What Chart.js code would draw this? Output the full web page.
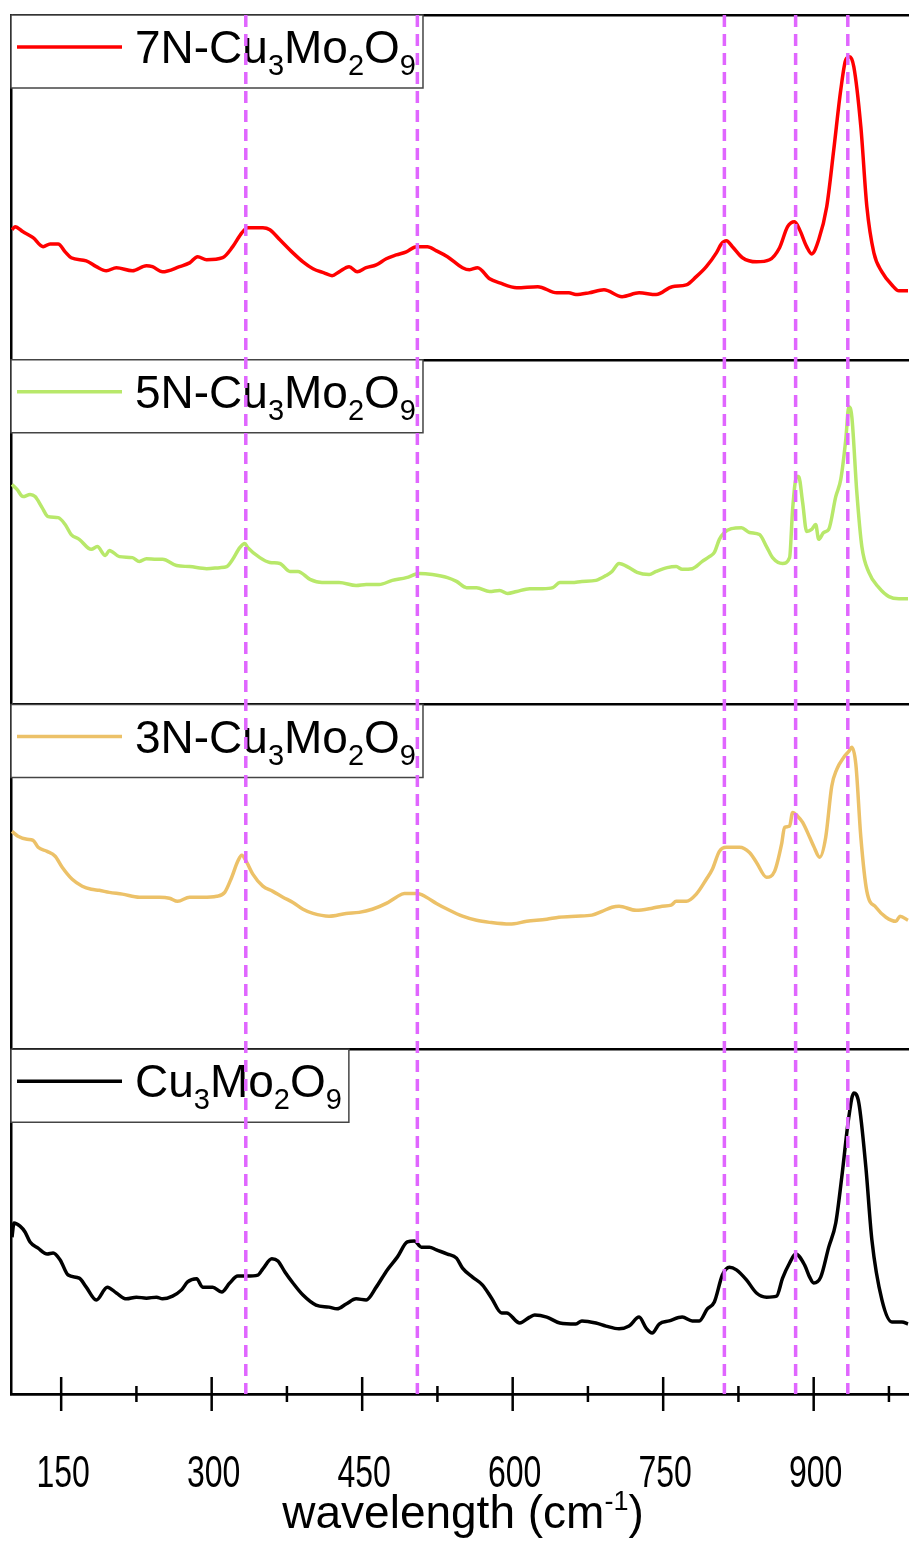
<!DOCTYPE html>
<html>
<head>
<meta charset="utf-8">
<script src="https://cdn.jsdelivr.net/npm/chart.js@4.4.1/dist/chart.umd.min.js"></script>
<style>
  html, body { margin: 0; padding: 0; background: #fff; }
  canvas { display: block; }
</style>
</head>
<body>
<canvas id="raman" width="909" height="1543"></canvas>
<script>
// Raman spectra, wavenumber (cm-1) vs intensity (a.u., 0-100 inside each panel)
const pristineWave = [101,103,109,114,119,127,136,142,149,157,168,175,185,196,205,215,225,235,245,251,261,270,276,285,291,301,310,318,326,335,346,351,360,366,373,381,391,404,417,425,434,444,454,464,475,485,495,502,509,517,524,535,544,550,560,570,579,589,594,607,617,622,634,647,663,669,683,693,706,716,726,733,739,746,756,769,779,786,794,801,809,816,823,833,843,853,863,869,876,882,891,896,900,907,915,922,928,935,940,945,952,958,968,978,988,994];
const pristineInt = [45.5,49.6,48.7,47.0,44.1,42.3,40.6,40.9,38.9,34.5,33.6,31.0,27.3,31.0,29.3,27.6,28.1,27.8,28.1,27.6,28.4,30.2,32.5,33.4,31.0,31.0,29.6,32.2,34.2,34.2,34.5,36.3,39.2,38.6,35.4,32.2,28.7,25.8,25.2,24.7,26.1,27.6,27.3,31.0,36.0,39.7,44.1,44.4,42.6,42.6,41.8,40.6,39.4,36.5,33.9,31.6,27.8,23.5,23.5,20.6,22.3,22.9,22.3,20.6,20.3,21.2,20.6,19.7,18.9,19.7,22.3,19.1,17.7,20.3,21.2,22.3,21.2,21.2,24.7,26.7,34.5,36.8,36.0,33.1,29.3,28.1,28.4,33.6,38.0,40.6,37.4,33.9,32.2,33.9,42.6,49.6,62.9,80.3,87.3,84.4,65.8,44.7,27.3,20.9,20.9,20.3];

const n3Wave = [101,107,116,122,127,136,144,151,161,171,180,188,198,211,228,248,258,266,278,291,305,313,320,326,330,335,341,351,361,371,381,391,401,417,434,447,460,474,484,492,505,514,524,535,550,564,577,597,614,634,646,663,679,689,699,706,723,739,749,758,763,773,783,793,799,806,813,826,836,843,853,861,868,871,876,879,884,889,896,900,906,912,918,923,930,935,938,942,947,953,962,972,982,986,994];
const n3Int = [63.2,61.8,60.9,60.6,58.6,57.4,56.0,52.8,49.3,47.3,46.4,46.1,45.5,45.0,44.1,44.1,43.8,42.9,44.1,44.1,44.4,45.5,49.9,54.5,56.3,54.2,50.8,47.3,45.8,44.1,42.6,40.6,39.4,38.6,39.4,39.7,40.6,42.3,44.1,45.2,45.2,44.1,42.3,40.6,38.6,37.4,36.8,36.3,37.1,37.7,38.3,38.6,38.9,40.0,41.2,41.5,40.3,40.9,41.5,41.8,42.9,42.9,45.0,49.3,52.2,57.4,58.6,58.6,57.1,54.2,49.9,51.6,59.5,64.4,64.7,68.7,67.6,65.8,61.5,58.9,55.7,61.5,76.3,81.2,84.7,86.4,87.6,82.7,61.5,45.8,41.2,38.3,37.1,38.6,37.4];

const n5Wave = [101,106,112,119,124,131,137,147,154,160,168,180,186,194,198,208,221,228,235,245,251,265,278,295,308,315,321,328,333,336,348,358,368,378,386,398,410,427,444,454,467,480,494,507,520,535,544,554,564,577,587,595,604,617,630,640,647,659,669,683,693,699,706,716,724,736,743,754,763,769,779,789,796,801,806,811,818,828,836,846,853,859,869,876,879,883,885,889,893,898,902,905,910,915,922,927,932,935,938,943,948,955,965,975,985,994];
const n5Int = [63.8,62.4,60.3,60.9,60.3,57.1,54.5,54.2,52.2,49.3,47.9,45.0,45.8,43.2,44.7,42.9,42.6,41.5,42.3,42.1,42.1,40.3,40.0,39.4,39.7,40.0,42.1,45.5,46.7,45.5,42.6,41.2,40.9,38.6,38.6,36.3,35.4,35.4,34.5,34.8,34.8,36.0,36.8,38.0,37.7,36.8,35.7,33.9,33.9,32.8,33.1,32.2,32.8,33.6,33.6,33.9,35.4,35.4,35.7,36.0,37.4,38.6,40.9,39.7,38.3,37.7,38.6,39.7,40.0,39.2,39.4,41.5,42.9,44.1,47.9,49.9,51.0,51.3,49.9,49.3,45.8,42.6,40.9,42.6,56.6,66.1,66.1,58.6,50.2,50.8,52.2,47.9,49.9,50.8,60.3,65.3,76.9,86.4,83.5,61.5,45.8,38.3,33.9,31.3,30.7,30.7];

const n7Wave = [101,104,112,122,132,139,147,154,160,175,185,195,205,221,235,241,251,268,278,286,295,311,321,330,336,351,358,368,381,391,401,412,420,427,437,445,454,464,474,484,494,504,515,524,535,550,557,565,577,587,604,625,644,656,663,676,691,709,726,743,759,773,783,793,803,808,813,819,829,843,856,866,874,881,886,893,898,905,913,920,927,932,936,940,947,953,960,968,978,985,994];
const n7Int = [37.7,38.6,37.1,35.4,32.8,33.6,33.6,31.3,29.6,28.7,27.0,25.8,26.7,25.8,27.3,27.0,25.5,27.0,28.1,29.9,29.0,29.6,32.8,36.8,38.3,38.3,37.7,34.8,31.0,28.4,26.4,25.2,24.4,25.5,27.0,25.5,26.7,27.5,29.3,30.4,31.3,32.8,32.8,31.6,29.9,26.7,26.1,26.7,23.5,22.3,20.9,21.2,19.4,19.4,18.9,19.4,20.3,18.3,19.4,18.9,21.2,21.7,24.1,27.0,31.0,33.6,34.5,32.8,29.6,28.4,29.0,32.5,38.6,40.0,37.7,32.8,30.7,34.8,44.4,60.9,78.3,87.0,87.9,85.0,67.6,44.4,31.0,25.5,21.7,20.0,20.0];

// bottom panel first
const sampleNames = ['Cu3Mo2O9', '3N-Cu3Mo2O9', '5N-Cu3Mo2O9', '7N-Cu3Mo2O9'];
const sampleColors = ['#000000', '#ecc168', '#b8e86a', '#ff0000'];
const majorTicks = [150, 300, 450, 600, 750, 900];
const minorTicks = [225, 375, 525, 675, 825, 975];
const peakLines = [334, 505, 811, 882, 934];
const waveMin = 100, waveMax = 995;
const panelSpan = 100;

const FONT = '"Liberation Sans", Arial, sans-serif';

const spectra = [
  [pristineWave, pristineInt],
  [n3Wave, n3Int],
  [n5Wave, n5Int],
  [n7Wave, n7Int]
];

const datasets = spectra.map(([wave, inten], i) => ({
  label: sampleNames[i],
  data: wave.map((w, k) => ({ x: w, y: inten[k] + i * panelSpan })),
  borderColor: sampleColors[i],
  borderWidth: 3.5,
  pointRadius: 0,
  cubicInterpolationMode: 'monotone',
  fill: false
}));

// writes a formula, digits after a letter go down as subscripts
function drawFormula(ctx, text, x, baseline, size, draw) {
  const subSize = Math.round(size * 0.62);
  let cx = x;
  for (let i = 0; i < text.length; i++) {
    const ch = text[i];
    const sub = /\d/.test(ch) && i > 0 && /[A-Za-z]/.test(text[i - 1]);
    ctx.font = (sub ? subSize : size) + 'px ' + FONT;
    if (draw) ctx.fillText(ch, cx, baseline + (sub ? 12 : 0));
    cx += ctx.measureText(ch).width;
  }
  return cx;
}

const decor = {
  id: 'decor',
  afterDraw(chart) {
    const { ctx, chartArea: area, scales: { x, y } } = chart;
    ctx.save();

    // one legend box per panel, top-left corner
    sampleNames.forEach((name, i) => {
      const top = y.getPixelForValue((i + 1) * panelSpan);
      const left = area.left;
      const end = drawFormula(ctx, name, left + 124, top + 48, 46, false);
      const w = end + 7 - left;
      ctx.fillStyle = '#fff';
      ctx.fillRect(left, top, w, 73);
      ctx.strokeStyle = '#444';
      ctx.lineWidth = 1.5;
      ctx.setLineDash([]);
      ctx.strokeRect(left, top, w, 73);
      ctx.strokeStyle = sampleColors[i];
      ctx.lineWidth = 3.5;
      ctx.beginPath();
      ctx.moveTo(left + 6, top + 32);
      ctx.lineTo(left + 111, top + 32);
      ctx.stroke();
      ctx.fillStyle = '#000';
      ctx.textBaseline = 'alphabetic';
      ctx.textAlign = 'left';
      drawFormula(ctx, name, left + 124, top + 48, 46, true);
    });

    // peak guide lines
    ctx.strokeStyle = '#e066ff';
    ctx.lineWidth = 3.5;
    ctx.setLineDash([12, 7]);
    peakLines.forEach(v => {
      const px = x.getPixelForValue(v);
      ctx.beginPath();
      ctx.moveTo(px, area.top);
      ctx.lineTo(px, area.bottom);
      ctx.stroke();
    });
    ctx.setLineDash([]);

    // tick marks crossing the bottom axis, labels on the major ones
    ctx.strokeStyle = '#000';
    ctx.fillStyle = '#000';
    ctx.lineWidth = 2.5;
    ctx.textAlign = 'center';
    ctx.textBaseline = 'alphabetic';
    x.ticks.forEach(t => {
      const px = x.getPixelForValue(t.value);
      const major = majorTicks.includes(t.value);
      const len = major ? 17 : 8;
      ctx.beginPath();
      ctx.moveTo(px, area.bottom - len);
      ctx.lineTo(px, area.bottom + len);
      ctx.stroke();
      if (major) {
        ctx.save();
        ctx.translate(px + 2, area.bottom + 93);
        ctx.scale(1, 1.4);
        ctx.font = '32px ' + FONT;
        ctx.fillText(String(t.value), 0, 0);
        ctx.restore();
      }
    });

    // axis title with superscript
    ctx.textAlign = 'left';
    ctx.font = '46px ' + FONT;
    const main = 'wavelength (cm';
    const mainW = ctx.measureText(main).width;
    ctx.font = '27px ' + FONT;
    const supW = ctx.measureText('-1').width;
    ctx.font = '46px ' + FONT;
    const closeW = ctx.measureText(')').width;
    const total = mainW + supW + closeW;
    let tx = 463 - total / 2;
    const base = 1528;
    ctx.fillText(main, tx, base);
    tx += mainW;
    ctx.font = '27px ' + FONT;
    ctx.fillText('-1', tx, base - 18);
    tx += supW;
    ctx.font = '46px ' + FONT;
    ctx.fillText(')', tx, base);

    ctx.restore();
  }
};

new Chart(document.getElementById('raman'), {
  type: 'line',
  data: { datasets },
  options: {
    responsive: false,
    animation: false,
    layout: { padding: { left: 11, top: 15, right: 0, bottom: 0 } },
    plugins: { legend: { display: false }, tooltip: { enabled: false } },
    scales: {
      x: {
        type: 'linear',
        min: waveMin,
        max: waveMax,
        afterBuildTicks: s => {
          s.ticks = majorTicks.concat(minorTicks).sort((a, b) => a - b).map(value => ({ value }));
        },
        afterFit: s => {
          s.height = 149;
          s.paddingLeft = 0;
          s.paddingRight = 0;
        },
        grid: { display: false, drawTicks: false },
        border: { display: true, color: '#000', width: 2.5 },
        ticks: { display: false }
      },
      y: {
        type: 'linear',
        min: 0,
        max: 4 * panelSpan,
        afterBuildTicks: s => {
          s.ticks = [0, 1, 2, 3, 4].map(k => ({ value: k * panelSpan }));
        },
        afterFit: s => { s.width = 0; },
        grid: { color: '#000', lineWidth: 2.5, drawTicks: false },
        border: { display: true, color: '#000', width: 2.5 },
        ticks: { display: false }
      }
    }
  },
  plugins: [decor]
});
</script>
</body>
</html>
